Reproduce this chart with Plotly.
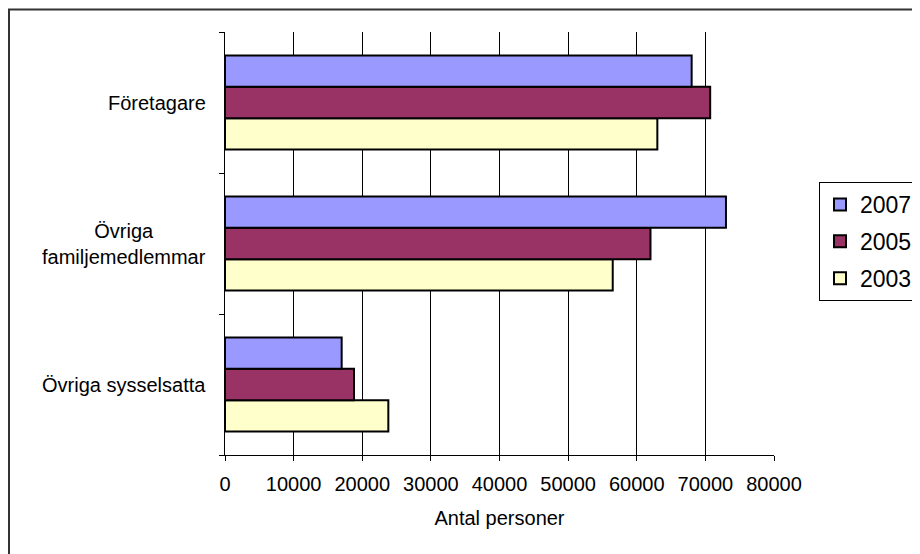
import plotly.graph_objects as go

categories = ["Företagare", "Övriga<br>familjemedlemmar", "Övriga sysselsatta"]
years = ["2003", "2005", "2007"]
values_2003 = [63000, 56500, 23800]
values_2005 = [70700, 62000, 18800]
values_2007 = [68000, 73000, 17000]
x_ticks = [0, 10000, 20000, 30000, 40000, 50000, 60000, 70000, 80000]
x_title = "Antal personer"

series = {"2003": values_2003, "2005": values_2005, "2007": values_2007}
colors = {"2007": "#9999FF", "2005": "#993366", "2003": "#FFFFCC"}
legend_rank = {"2007": 1, "2005": 2, "2003": 3}

# page has an 8px body margin, so the figure is sized to fit the window
W, H = 912, 546
ML, MT = 217, 24
PW, PH = 549, 423
MR, MB = W - ML - PW, H - MT - PH
FONT = "Arial, 'Liberation Sans', sans-serif"

fig = go.Figure()
for y in years:
    fig.add_trace(go.Bar(
        y=categories, x=series[y], name=y, orientation="h",
        marker=dict(color=colors[y], line=dict(color="black", width=2)),
        legendgroup=y, legendrank=legend_rank[y],
    ))

def px_x(px):
    return (px - ML) / PW

def px_y(py):
    return (H - MB - py) / PH

# category labels (centered multi-line text)
for c in categories:
    fig.add_annotation(x=0, xref="paper", y=c, yref="y", text=c, showarrow=False,
                       xanchor="right", xshift=-17, align="center",
                       font=dict(family=FONT, size=20, color="black"))

# outer chart-area border
fig.add_shape(type="rect", xref="paper", yref="paper",
              x0=px_x(1), x1=px_x(960), y0=px_y(600), y1=px_y(1.5),
              line=dict(color="#333333", width=2), fillcolor="rgba(0,0,0,0)", layer="below")

fig.update_layout(
    width=W, height=H,
    margin=dict(l=ML, r=MR, t=MT, b=MB, autoexpand=False),
    paper_bgcolor="white", plot_bgcolor="white",
    barmode="group", bargap=0.335, bargroupgap=0,
    font=dict(family=FONT, size=20, color="black"),
    showlegend=True,
    legend=dict(x=px_x(811), y=px_y(174), xanchor="left", yanchor="top",
                traceorder="grouped", tracegroupgap=4,
                bordercolor="black", borderwidth=1, bgcolor="white",
                font=dict(family=FONT, size=23, color="black")),
    xaxis=dict(range=[0, 80000], tickvals=x_ticks, ticktext=[str(v) for v in x_ticks],
               showgrid=True, gridcolor="black", gridwidth=1,
               showline=True, linecolor="black", linewidth=1,
               ticks="outside", ticklen=5, tickcolor="black", ticklabelstandoff=6,
               zeroline=False, fixedrange=True,
               tickfont=dict(family=FONT, size=20, color="black"),
               title=dict(text=x_title, font=dict(family=FONT, size=20, color="black"), standoff=16)),
    yaxis=dict(categoryorder="array", categoryarray=categories[::-1],
               showticklabels=False, showline=True, linecolor="black", linewidth=1,
               ticks="outside", ticklen=5, tickcolor="black", tickson="boundaries",
               showgrid=False, zeroline=False, fixedrange=True),
)

fig.write_html("out.html")
